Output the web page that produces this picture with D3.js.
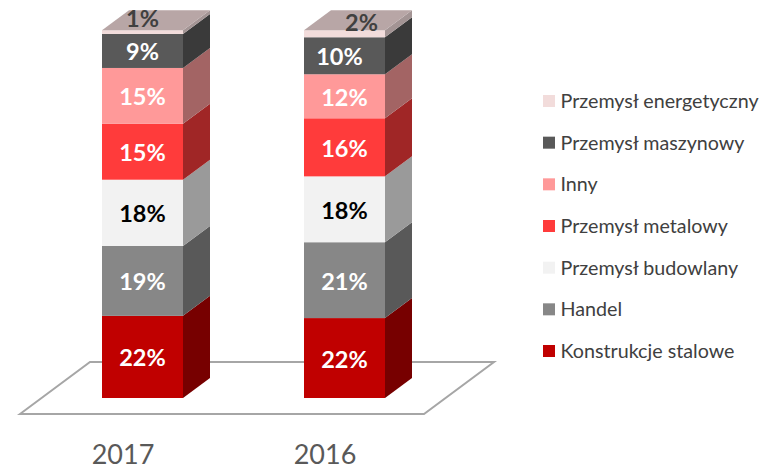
<!DOCTYPE html>
<html><head><meta charset="utf-8">
<script src="https://cdn.jsdelivr.net/npm/d3@7"></script>
<style>html,body{margin:0;padding:0;background:#fff}svg{display:block}text{font-family:Lato,sans-serif}</style>
</head><body><svg id="c" width="775" height="469"></svg>
<script>
const years = ["2017", "2016"];
const seriesNames = ["Konstrukcje stalowe", "Handel", "Przemysł budowlany", "Przemysł metalowy", "Inny", "Przemysł maszynowy", "Przemysł energetyczny"];
const values2017 = [22.2, 18.9, 17.9, 15.1, 15.1, 9.2, 1.0];
const values2016 = [21.6, 20.5, 17.8, 15.7, 11.9, 10.0, 1.9];
const labels2017 = ["22%", "19%", "18%", "15%", "15%", "9%", "1%"];
const labels2016 = ["22%", "21%", "18%", "16%", "12%", "10%", "2%"];
const frontColors = ["#c00000", "#878787", "#f2f2f2", "#ff3b3b", "#ff9999", "#595959", "#f2dcdb"];
const sideColors = ["#770000", "#595959", "#9a9a9a", "#a02626", "#a36464", "#3a3a3a", "#a39494"];
const labelColors = ["#fff", "#fff", "#000", "#fff", "#fff", "#fff", "#404040"];
const labelShift2017 = [0, 0, 0, 0, 0, 0, 0];
const labelShift2016 = [0, 0, 0, 0, 0, -5, 17];

const svg = d3.select("#c");
const dx = 27, dy = 20;
const x = d3.scaleBand().domain(years).range([102, 385]).paddingInner(0.599);
const y = d3.scaleLinear().domain([0, 100]).range([398, 28]);

// floor
const floor = d3.line();
svg.append("path")
  .attr("d", floor([[20, 414], [90, 362], [494, 362], [424, 414]]) + "Z")
  .attr("fill", "#fff").attr("stroke", "#a6a6a6").attr("stroke-width", 2);

const data = [
  {year: "2017", vals: values2017, labels: labels2017, shifts: labelShift2017},
  {year: "2016", vals: values2016, labels: labels2016, shifts: labelShift2016}
];
data.forEach(d => {
  const g = svg.append("g");
  const x0 = x(d.year), x1 = x0 + x.bandwidth();
  let cum = 0;
  const segs = d.vals.map((v, i) => { const s = {i, a: cum, b: cum + v}; cum += v; return s; });
  g.selectAll("path.side").data(segs).join("path").attr("class", "side")
    .attr("d", s => floor([[x1, y(s.a)], [x1 + dx, y(s.a) - dy], [x1 + dx, y(s.b) - dy], [x1, y(s.b)]]) + "Z")
    .attr("fill", s => sideColors[s.i]);
  g.selectAll("rect").data(segs).join("rect")
    .attr("x", x0).attr("width", x.bandwidth())
    .attr("y", s => y(s.b)).attr("height", s => y(s.a) - y(s.b))
    .attr("fill", s => frontColors[s.i]);
  g.append("path")
    .attr("d", floor([[x0, y(cum)], [x0 + dx, y(cum) - dy], [x1 + dx, y(cum) - dy], [x1, y(cum)]]) + "Z")
    .attr("fill", "#b8a6a6");
  g.selectAll("text").data(segs).join("text")
    .attr("x", s => (x0 + x1) / 2 + d.shifts[s.i])
    .attr("y", s => s.i === 6 ? y(cum) - (d.year === "2017" ? 12 : 8) : y((s.a + s.b) / 2) + 1)
    .attr("dy", "0.36em").attr("text-anchor", "middle")
    .attr("font-size", 23.5).attr("font-weight", 700)
    .attr("fill", s => labelColors[s.i])
    .text(s => d.labels[s.i]);
});

// category axis
const axisX = d3.scalePoint().domain(years).range([122.5, 324.5]);
const ax = svg.append("g").attr("transform", "translate(0,442)")
  .call(d3.axisBottom(axisX).tickSize(0).tickPadding(0));
ax.select(".domain").remove();
ax.selectAll("text").attr("font-size", 27).attr("fill", "#595959").attr("dy", "0.8em").style("font-family", "Lato");

// legend
const legendOrder = seriesNames.map((n, i) => i).reverse();
const ly = d3.scalePoint().domain(legendOrder).range([101, 351]);
const lg = svg.append("g").selectAll("g").data(legendOrder).join("g")
  .attr("transform", i => `translate(543,${ly(i)})`);
lg.append("rect").attr("y", -6).attr("width", 12).attr("height", 12).attr("fill", i => frontColors[i]);
lg.append("text").attr("x", 17.5).attr("dy", "0.36em").attr("font-size", 19.7).attr("fill", "#404040")
  .text(i => seriesNames[i]);
</script></body></html>
